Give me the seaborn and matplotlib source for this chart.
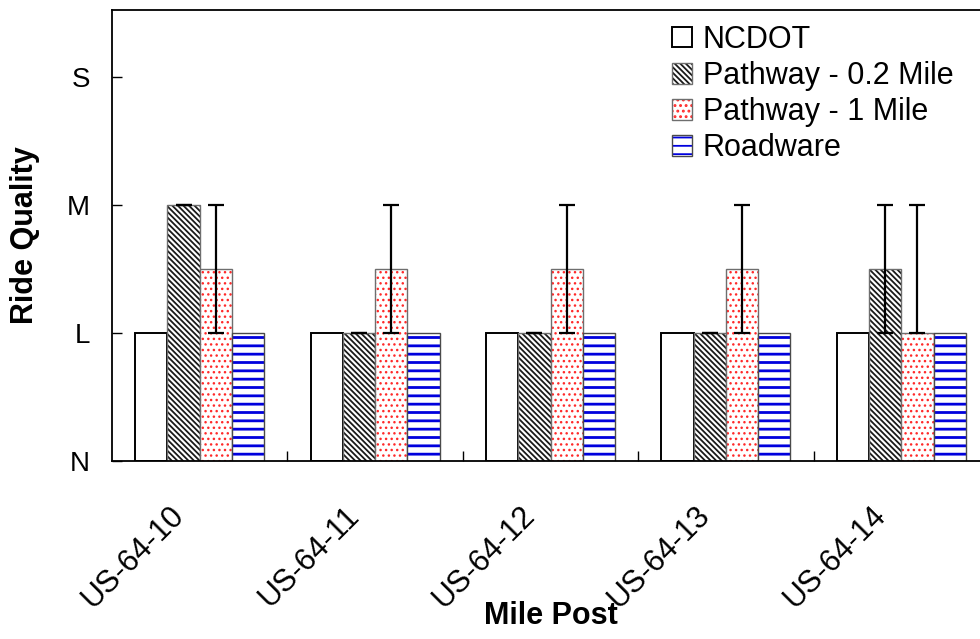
import numpy as np
import pandas as pd
import matplotlib
matplotlib.use("Agg")
import matplotlib.pyplot as plt
import seaborn as sns
from matplotlib.colors import to_rgba
from matplotlib.transforms import ScaledTranslation

# ---- data ----
sites = ["US-64-10", "US-64-11", "US-64-12", "US-64-13", "US-64-14"]
sources = ["NCDOT", "Pathway - 0.2 Mile", "Pathway - 1 Mile", "Roadware"]
ncdot = [1, 1, 1, 1, 1]
pathway_02 = [2, 1, 1, 1, 1.5]
pathway_1 = [1.5, 1.5, 1.5, 1.5, 1]
roadware = [1, 1, 1, 1, 1]
pathway_02_err_lo = [0, 0, 0, 0, 0.5]
pathway_02_err_hi = [0, 0, 0, 0, 0.5]
pathway_1_err_lo = [0.5, 0.5, 0.5, 0.5, 0]
pathway_1_err_hi = [0.5, 0.5, 0.5, 0.5, 1]
quality_ticks = [0, 1, 2, 3]
quality_labels = ["N", "L", "M", "S"]

sns.set_style("ticks")
plt.rcParams["font.family"] = ["Liberation Sans", "DejaVu Sans"]
plt.rcParams["hatch.linewidth"] = 1.3
plt.rcParams["text.color"] = "black"
plt.rcParams["axes.labelcolor"] = "black"
plt.rcParams["xtick.color"] = "black"
plt.rcParams["ytick.color"] = "black"

df = pd.DataFrame({
    "site": sites * 4,
    "source": np.repeat(sources, len(sites)),
    "value": ncdot + pathway_02 + pathway_1 + roadware,
})

fig = plt.figure(figsize=(9.8, 6.39), dpi=100)
ax = fig.add_axes([112 / 980, 178 / 639, 877 / 980, 451 / 639])

sns.barplot(data=df, x="site", y="value", hue="source", order=sites,
            hue_order=sources, palette={s: "white" for s in sources},
            saturation=1, width=0.735, gap=0, errorbar=None, legend=False, ax=ax)

styles = {
    "NCDOT": dict(hatch=None, hc=None, hlw=1.0, edge="black", lw=1.4),
    "Pathway - 0.2 Mile": dict(hatch="\\" * 6, hc="#1a1a1a", hlw=1.3, edge="#6e6e6e", lw=1.0),
    "Pathway - 1 Mile": dict(hatch="...", hc="#ff2a2a", hlw=1.0, edge="#6e6e6e", lw=1.0),
    "Roadware": dict(hatch="--", hc="#0000dd", hlw=2.0, edge="#4a4a4a", lw=1.0),
}
for cont, src in zip(ax.containers, sources):
    st = styles[src]
    for p in cont:
        p.set_facecolor("white")
        p.set_edgecolor(st["edge"])
        p.set_linewidth(st["lw"])
        if st["hatch"]:
            p.set_hatch(st["hatch"])
            p._hatch_color = to_rgba(st["hc"])
            if hasattr(p, "set_hatch_linewidth"):
                p.set_hatch_linewidth(st["hlw"])

# error bars placed on the seaborn bars
for cont, vals, lo, hi in [(ax.containers[1], pathway_02, pathway_02_err_lo, pathway_02_err_hi),
                           (ax.containers[2], pathway_1, pathway_1_err_lo, pathway_1_err_hi)]:
    xs = [p.get_x() + p.get_width() / 2 for p in cont]
    ax.errorbar(xs, vals, yerr=[lo, hi], fmt="none", ecolor="black",
                elinewidth=1.6, capsize=5.5, capthick=1.6, zorder=5)

ax.set_xlim(-0.5, 4.5)
ax.set_ylim(0, 3.52)
ax.set_yticks(quality_ticks, quality_labels)
ax.tick_params(axis="y", direction="in", length=7, width=1, pad=16, labelsize=20, colors="black")
ax.set_xticks(np.arange(0.5, 4.5, 1), minor=True)
ax.tick_params(axis="x", which="major", length=0, labelsize=22, pad=36, colors="black")
ax.tick_params(axis="x", which="minor", direction="in", length=7, width=1)
shift = ScaledTranslation(-0.2, 0, fig.dpi_scale_trans)
for lab in ax.get_xticklabels():
    lab.set_rotation(45)
    lab.set_ha("right")
    lab.set_va("center")
    lab.set_rotation_mode("anchor")
    lab.set_transform(lab.get_transform() + shift)

for sp in ax.spines.values():
    sp.set_visible(True)
    sp.set_color("black")
    sp.set_linewidth(1.3)

ax.set_xlabel("Mile Post", fontsize=22, fontweight="bold", color="black")
ax.set_ylabel("Ride Quality", fontsize=22, fontweight="bold", color="black")
ax.xaxis.set_label_coords(0.5, -0.31)
ax.yaxis.set_label_coords(-0.082, 0.5)

handles = [cont[0] for cont in ax.containers]
ax.legend(handles, sources, loc="upper left", bbox_to_anchor=(672 / 980, 1 - 25 / 639),
          bbox_transform=fig.transFigure, frameon=False, fontsize=22,
          handlelength=0.65, handleheight=0.65, handletextpad=0.35,
          labelspacing=0.2, borderpad=0, borderaxespad=0, labelcolor="black")

fig.savefig("out.png", dpi=100)
